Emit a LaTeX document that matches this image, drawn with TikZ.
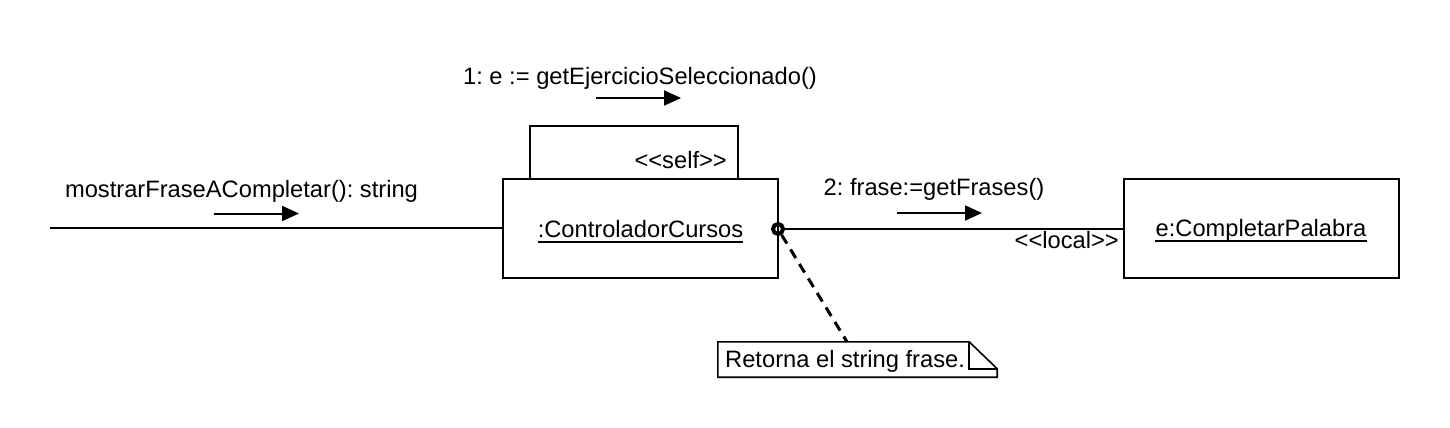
\documentclass[tikz,border=0pt]{standalone}
\usepackage{fontspec}
\setmainfont{Liberation Sans}[Ligatures=TeXOff]
\usetikzlibrary{arrows.meta,calc}
\begin{document}
\frenchspacing
\begin{tikzpicture}[x=1pt,y=-1pt,
  every node/.style={font=\fontsize{23.7}{28}\selectfont, inner sep=0pt},
  objbox/.style={draw, line width=2pt, minimum width=275pt, minimum height=99pt},
  conn/.style={line width=2pt},
  uline/.style={line width=1.8pt},
  msgarrow/.style={line width=2pt, -{Triangle[length=17pt,width=15pt]}},
  lbl/.style={anchor=base},
  notelink/.style={line width=3pt, dash pattern=on 10pt off 7pt},
  noteshape/.style={line width=1.6pt}]
\useasboundingbox (0,0) rectangle (1450,428);

% objects
\node[objbox] (ctrl) at (640.5,228.5) {};
\node[lbl] (ctrltxt) at (640.5,237) {:ControladorCursos};
\draw[uline] ($(ctrltxt.base west)+(0,5)$) -- ($(ctrltxt.base east)+(0,5)$);
\node[objbox] (comp) at (1261,228.5) {};
\node[lbl] (comptxt) at (1261,236) {e:CompletarPalabra};
\draw[uline] ($(comptxt.base west)+(0,5)$) -- ($(comptxt.base east)+(0,5)$);

% self loop
\draw[conn] ($(ctrl.north west)+(28,0)$) |- ($(ctrl.north east)+(-41,-52)$) -- ($(ctrl.north east)+(-41,0)$);
\node[anchor=base east] (selflbl) at (727,168) {<<self>>};

% incoming link
\coordinate (start) at (50,228);
\draw[conn] (start) -- (start -| ctrl.west);

% end circle and link
\node[circle, draw, line width=4pt, minimum size=10pt] (circ) at (778,229) {};
\draw[conn] (circ.east) -- (circ.east -| comp.west);
\node[anchor=base east] (locallbl) at (1119,248) {<<local>>};

% note
\node (note) at (857.5,359.5) [minimum width=279pt, minimum height=35pt] {};
\draw[noteshape] (note.north west) -- ($(note.north east)+(-28,0)$) -- ($(note.north east)+(0,27)$) -- (note.south east) -- (note.south west) -- cycle;
\draw[noteshape] ($(note.north east)+(-28,0)$) -- ++(0,27) -- ++(28,0);
\node[anchor=base west] (notetxt) at (725,367) {Retorna el string frase.};
\coordinate (notetop) at ($(note.north)+(-10.5,0)$);
\draw[notelink] (circ) -- (notetop);

% messages
\node[lbl] (m0) at (241.5,197) {mostrarFraseACompletar(): string};
\coordinate (a0s) at (214,213.5); \coordinate (a0e) at (299,213.5);
\draw[msgarrow] (a0s) -- (a0e);

\node[lbl] (m1) at (640,84.5) {1: e := getEjercicioSeleccionado()};
\coordinate (a1s) at (596,98); \coordinate (a1e) at (681,98);
\draw[msgarrow] (a1s) -- (a1e);

\node[lbl] (m2) at (934,195) {2: frase:=getFrases()};
\coordinate (a2s) at (897,213); \coordinate (a2e) at (982,213);
\draw[msgarrow] (a2s) -- (a2e);
\end{tikzpicture}
\end{document}
